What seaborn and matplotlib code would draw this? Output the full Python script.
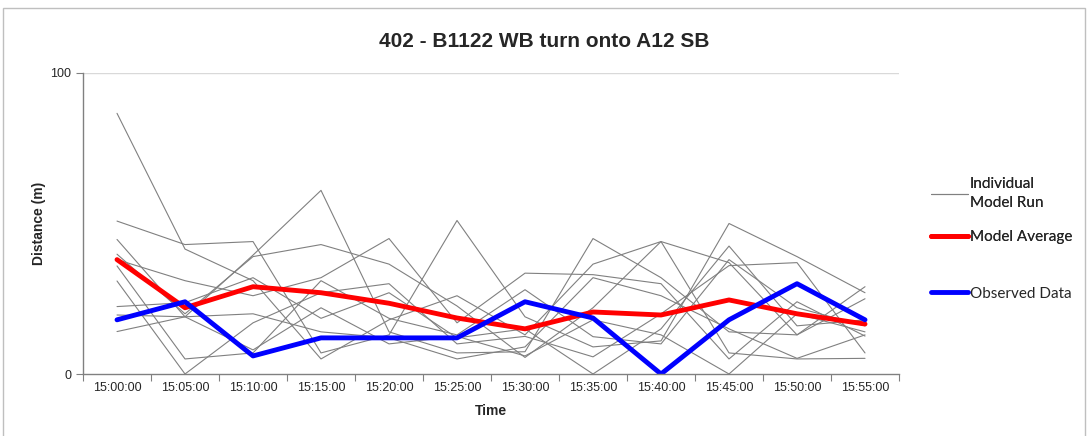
import matplotlib
matplotlib.use('Agg')
import matplotlib.pyplot as plt
import seaborn as sns
import pandas as pd
import numpy as np
from matplotlib.lines import Line2D
from matplotlib.patches import Rectangle

# data
times = ['15:00:00', '15:05:00', '15:10:00', '15:15:00', '15:20:00', '15:25:00',
         '15:30:00', '15:35:00', '15:40:00', '15:45:00', '15:50:00', '15:55:00']

run_1 = [86.6, 41.5, 31, 5, 18, 26, 13, 36.5, 44, 7, 5, 5.2]
run_2 = [50.8, 43, 44, 7, 13, 51, 19, 9, 11, 50, 39, 27]
run_3 = [44.7, 19, 39.5, 61, 14, 7, 7.4, 45, 32, 14, 13, 25]
run_4 = [39.8, 20, 39, 43, 36.5, 22.6, 5.5, 22, 44, 37, 13, 29]
run_5 = [38, 31, 26, 32, 45, 17, 33.5, 33, 30, 5, 24, 12.6]
run_6 = [35.9, 5, 7, 31, 18.5, 13, 28, 12.4, 10, 38, 22, 16]
run_7 = [30.9, 0, 17, 27, 30, 10, 12.5, 5.7, 20, 36, 37, 7]
run_8 = [22.4, 23.7, 32, 18.5, 27, 12, 15, 0, 15, 42.5, 16, 18]
run_9 = [19.6, 19, 20, 14, 12, 5, 9, 32, 26, 15, 5.2, 13]
run_10 = [14.1, 19, 8, 22, 10, 12.5, 6, 18, 13, 0, 20, 14]

model_average = [38, 22, 29, 27, 23.5, 18.6, 15, 20.6, 19.6, 24.6, 20, 16.6]
observed = [18, 24, 6, 12, 12, 12, 24, 18.6, 0, 18, 30, 18]

runs = [run_1, run_2, run_3, run_4, run_5, run_6, run_7, run_8, run_9, run_10]

# long-form table for the individual runs
rows = []
for r, vals in enumerate(runs):
    for i, v in enumerate(vals):
        rows.append({'Run': r, 'idx': i, 'Distance': v})
runs_df = pd.DataFrame(rows)
avg_df = pd.DataFrame({'idx': range(len(times)), 'Distance': model_average})
obs_df = pd.DataFrame({'idx': range(len(times)), 'Distance': observed})

sns.set_style('white')
plt.rcParams['font.family'] = ['Liberation Sans', 'DejaVu Sans']

fig = plt.figure(figsize=(10.88, 4.36), dpi=100)
ax = fig.add_axes([0.0763, 0.1422, 0.75, 0.6904])

sns.lineplot(data=runs_df, x='idx', y='Distance', units='Run', estimator=None,
             color='#808080', linewidth=0.8, ax=ax, legend=False)
sns.lineplot(data=avg_df, x='idx', y='Distance', color='#ff0000', linewidth=3.5, ax=ax)
sns.lineplot(data=obs_df, x='idx', y='Distance', color='#0000ff', linewidth=3.5, ax=ax)

ax.set_xlim(-0.5, len(times) - 0.5)
ax.set_ylim(0, 100)
ax.axhline(100, color='#d9d9d9', linewidth=1, zorder=0)

# Excel style: tick marks between categories, labels on categories
ax.set_xticks(np.arange(-0.5, len(times), 1))
ax.set_xticklabels([])
ax.set_xticks(range(len(times)), minor=True)
ax.set_xticklabels(times, minor=True, fontsize=9)
ax.tick_params(axis='x', which='major', direction='out', length=5, color='#808080', bottom=True)
ax.tick_params(axis='x', which='minor', length=0, pad=6)
ax.set_yticks([0, 100])
ax.set_yticklabels(['0', '100'], fontsize=9)
ax.tick_params(axis='y', direction='out', length=5, color='#808080', left=True)

for s in ['top', 'right']:
    ax.spines[s].set_visible(False)
for s in ['left', 'bottom']:
    ax.spines[s].set_color('#808080')
    ax.spines[s].set_linewidth(1)

ax.set_xlabel('Time', fontsize=10, fontweight='bold', labelpad=7)
ax.set_ylabel('Distance (m)', fontsize=10, fontweight='bold', labelpad=3)
fig.text(0.5, 0.905, '402 - B1122 WB turn onto A12 SB', ha='center', va='center',
         fontsize=15, fontweight='bold')

# legend in two parts so the gaps match the reference
leg_prop = {'family': 'Lato', 'size': 11}
handles_top = [Line2D([], [], color='#808080', linewidth=0.8),
               Line2D([], [], color='#ff0000', linewidth=3.5)]
leg1 = fig.legend(handles_top, ['Individual\nModel Run', 'Model Average'],
                  loc='upper left', bbox_to_anchor=(0.843, 0.625),
                  frameon=False, prop=leg_prop,
                  handlelength=2.4, handletextpad=0.15, labelspacing=1.3)
leg1.get_texts()[0].set_linespacing(1.45)
fig.add_artist(leg1)
fig.legend([Line2D([], [], color='#0000ff', linewidth=3.5)], ['Observed Data'],
           loc='upper left', bbox_to_anchor=(0.843, 0.374),
           frameon=False, prop=leg_prop,
           handlelength=2.4, handletextpad=0.15)

fig.patches.append(Rectangle((0.003, -0.01), 0.994, 0.992, transform=fig.transFigure,
                             fill=False, edgecolor='#bfbfbf', linewidth=1))

fig.savefig('out.png', dpi=100)
